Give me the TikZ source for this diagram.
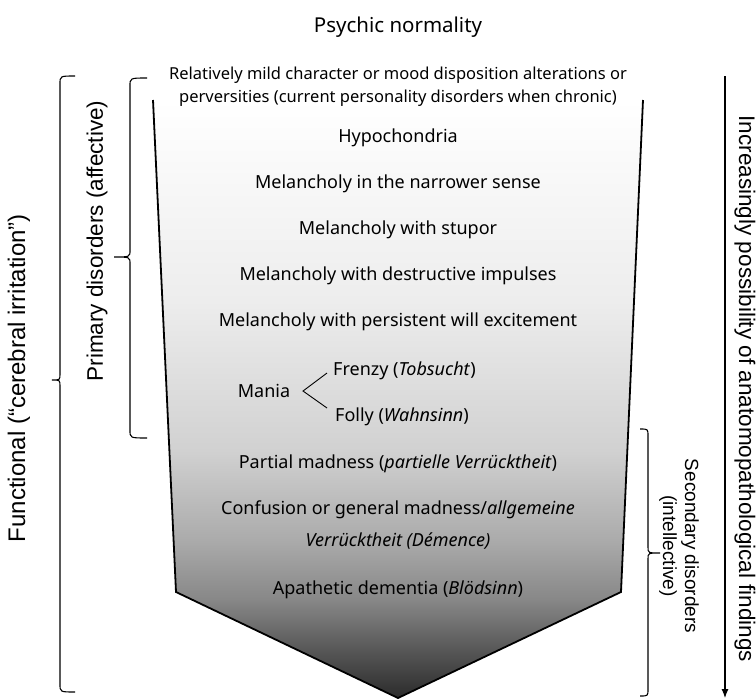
\documentclass[tikz,border=0pt]{standalone}
\usepackage{fontspec}
\setmainfont{Noto Sans}
\newfontfamily\sidefont{Liberation Sans}
\usetikzlibrary{arrows.meta}

% vertical grey ramp for the funnel (stops between 25bp and 75bp span the path)
\pgfdeclareverticalshading{funnelramp}{100bp}{%
  color(0bp)=(black!83);
  color(25bp)=(black!83);
  color(29bp)=(black!66);
  color(33.2bp)=(black!47);
  color(38.2bp)=(black!33);
  color(45.7bp)=(black!18);
  color(58.3bp)=(black!7);
  color(75bp)=(white);
  color(100bp)=(white)}

\tikzset{
  item/.style={font=\fontsize{18}{21}\selectfont, inner sep=0pt, anchor=center},
  itemit/.style={item, font=\fontsize{18}{21}\selectfont\itshape},
  smallitem/.style={item, font=\fontsize{16.5}{19}\selectfont},
  sidelabel/.style={font=\sidefont\fontsize{22.5}{25}\selectfont, inner sep=0pt, align=center},
  bracket/.style={draw=black, line width=1.1pt},
  funneledge/.style={draw=black, line width=1.8pt, line join=miter},
}

\begin{document}
\begin{tikzpicture}[x=1pt,y=-1pt]
\useasboundingbox (0,0) rectangle (756,699);

% funnel body
\shade[shading=funnelramp]
  (153,100) -- (176,592) -- (398,698) -- (621,592) -- (643,100) -- cycle;
\draw[funneledge] (153,100) -- (176,592) -- (398,698) -- (621,592) -- (643,100);

% heading above the funnel
\node[item, font=\fontsize{20.5}{23}\selectfont] (top) at (398,27) {Psychic normality};

% entries inside the funnel
\node[smallitem] (mild1) at (398,75) {Relatively mild character or mood disposition alterations or};
\node[smallitem] (mild2) at (398,98) {perversities (current personality disorders when chronic)};
\node[item] (hypo) at (398,138) {Hypochondria};
\node[item] (mel1) at (398,184) {Melancholy in the narrower sense};
\node[item] (mel2) at (398,230) {Melancholy with stupor};
\node[item] (mel3) at (398,276) {Melancholy with destructive impulses};
\node[item] (mel4) at (398,322) {Melancholy with persistent will excitement};
\node[item] (mania) at (264,391) {Mania};
\node[item, anchor=west] (frenzy) at (333,371) {Frenzy (\textit{Tobsucht})};
\node[item, anchor=west] (folly) at (335,417) {Folly (\textit{Wahnsinn})};
\node[item] (partial) at (398,464) {Partial madness (\textit{partielle Verrücktheit})};
\node[item] (conf1) at (398,510) {Confusion or general madness/\textit{allgemeine}};
\node[itemit] (conf2) at (398,541) {Verrücktheit (Démence)};
\node[item] (apath) at (398,590) {Apathetic dementia (\textit{Blödsinn})};

% fork from Mania to its two forms
\coordinate (fork) at (303,391);
\coordinate (forkup) at (327,373);
\coordinate (forkdown) at (327,408);
\draw[line width=0.9pt] (forkup) -- (fork) -- (forkdown);

% outer left bracket: functional
\coordinate (fa) at (75,76);
\coordinate (fb) at (75,692);
\draw[bracket] (fa) .. controls (60,76) .. (60,84) -- (60,374)
  .. controls (60,380) .. (52,380) .. controls (60,380) .. (60,386)
  -- (60,684) .. controls (60,692) .. (fb);
\node[sidelabel, rotate=90, font=\sidefont\fontsize{24}{27}\selectfont] (functional) at (19,378) {Functional (“cerebral irritation”)};

% inner left bracket: primary disorders
\coordinate (pa) at (147,78);
\coordinate (pb) at (147,438);
\draw[bracket] (pa) .. controls (130,78) .. (130,86) -- (130,250)
  .. controls (130,257) .. (114,257) .. controls (130,257) .. (130,264)
  -- (130,430) .. controls (130,438) .. (pb);
\node[sidelabel, rotate=90] (primary) at (97,241) {Primary disorders (affective)};

% right bracket: secondary disorders
\coordinate (sa) at (640,429);
\coordinate (sb) at (640,696);
\draw[bracket] (sa) .. controls (648,429) .. (648,436) -- (648,547)
  .. controls (648,553) .. (660,553) .. controls (648,553) .. (648,559)
  -- (648,689) .. controls (648,696) .. (sb);
\node[sidelabel, rotate=-90, font=\sidefont\fontsize{19}{22}\selectfont] (secondary) at (679,546) {Secondary disorders\\(intellective)};

% arrow of increasing anatomopathological evidence
\coordinate (ta) at (725,76);
\coordinate (tb) at (725,698);
\draw[line width=1.1pt, -{Latex[length=9pt,width=7pt]}] (ta) -- (tb);
\node[sidelabel, rotate=-90] (findings) at (745,389) {Increasingly possibility of anatomopathological findings};
\end{tikzpicture}
\end{document}
